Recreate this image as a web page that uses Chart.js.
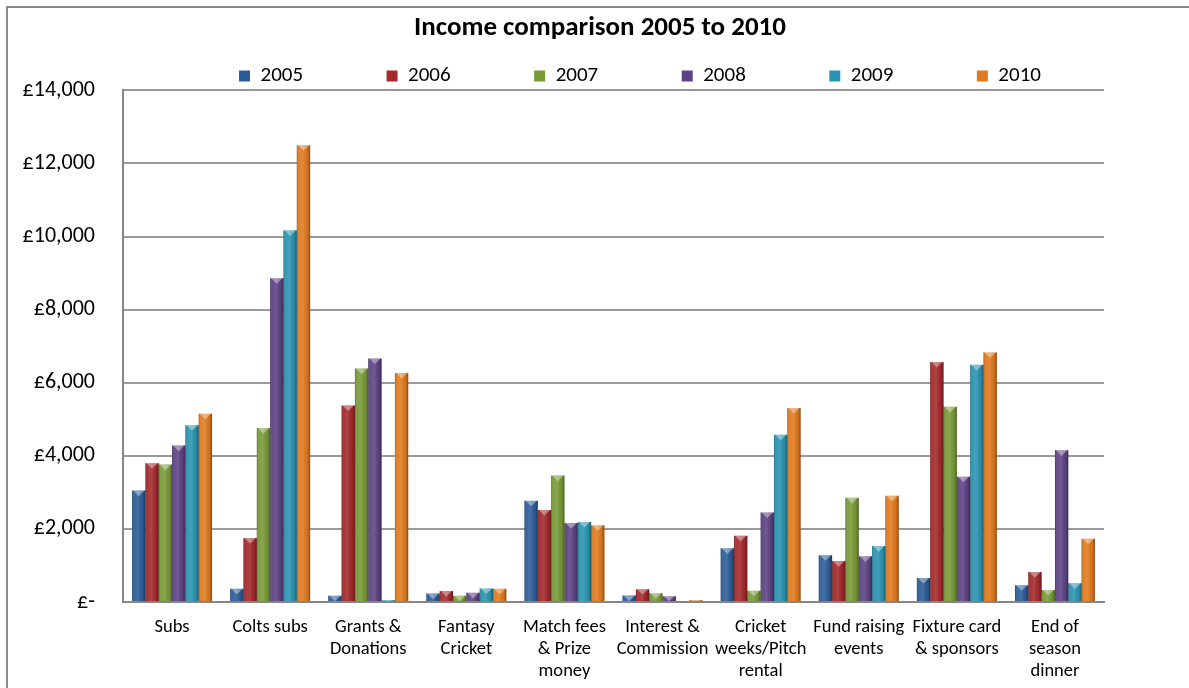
<!DOCTYPE html>
<html>
<head>
<meta charset="utf-8">
<title>Income comparison 2005 to 2010</title>
<script src="https://cdn.jsdelivr.net/npm/chart.js@4.4.1/dist/chart.umd.min.js"></script>
<style>
    body { margin: 0; background: #fff; }
    #wrap { width: 1189px; height: 688px; }
</style>
</head>
<body>
<div id="wrap"><canvas id="incomeChart" width="1189" height="688"></canvas></div>
<script>
// categories (x axis, one entry per line of the label)
const categories = [
    ['Subs'], ['Colts subs'], ['Grants &', 'Donations'], ['Fantasy', 'Cricket'],
    ['Match fees', '& Prize', 'money'], ['Interest &', 'Commission'],
    ['Cricket', 'weeks/Pitch', 'rental'], ['Fund raising', 'events'],
    ['Fixture card', '& sponsors'], ['End of', 'season', 'dinner']
];

const years = ['2005', '2006', '2007', '2008', '2009', '2010'];

// income per category (GBP)
const inc2005 = [3050, 360, 170, 230, 2770, 180, 1470, 1280, 660, 460];
const inc2006 = [3800, 1750, 5380, 300, 2520, 350, 1810, 1120, 6570, 820];
const inc2007 = [3760, 4760, 6390, 170, 3460, 240, 310, 2850, 5340, 330];
const inc2008 = [4280, 8860, 6660, 250, 2160, 160, 2450, 1250, 3430, 4150];
const inc2009 = [4840, 10170, 50, 370, 2190, 20, 4580, 1530, 6490, 510];
const inc2010 = [5150, 12500, 6270, 360, 2100, 50, 5310, 2910, 6830, 1730];

const yTicks = [0, 2000, 4000, 6000, 8000, 10000, 12000, 14000];
const yTickLabels = ['£-', '£2,000', '£4,000', '£6,000', '£8,000', '£10,000', '£12,000', '£14,000'];

const colours = ['#2c5c97', '#a3292b', '#789a37', '#5d4384', '#2a93b0', '#e0791d'];
const series = [inc2005, inc2006, inc2007, inc2008, inc2009, inc2010];

Chart.defaults.font.family = 'Carlito, Calibri, Lato, sans-serif';
Chart.defaults.color = '#000';

// frame around the whole chart
const chartFrame = {
    id: 'chartFrame',
    beforeDraw(chart) {
        const ctx = chart.ctx;
        ctx.save();
        ctx.strokeStyle = '#8a8a8a';
        ctx.lineWidth = 2;
        ctx.strokeRect(7, 7, 1300, 800);
        ctx.restore();
    }
};

// bevel look on every bar: side shading + light triangle on top
const bevel = {
    id: 'bevel',
    afterDatasetsDraw(chart) {
        const ctx = chart.ctx;
        ctx.save();
        chart.data.datasets.forEach((ds, i) => {
            chart.getDatasetMeta(i).data.forEach(bar => {
                const w = bar.width;
                const left = bar.x - w / 2;
                const right = bar.x + w / 2;
                const top = Math.min(bar.y, bar.base);
                const h = Math.abs(bar.base - bar.y);
                if (h < 0.5) return;
                const g = ctx.createLinearGradient(left, 0, right, 0);
                g.addColorStop(0, 'rgba(0,0,0,0.28)');
                g.addColorStop(0.15, 'rgba(255,255,255,0.06)');
                g.addColorStop(0.45, 'rgba(255,255,255,0.12)');
                g.addColorStop(0.8, 'rgba(0,0,0,0.06)');
                g.addColorStop(1, 'rgba(0,0,0,0.38)');
                ctx.fillStyle = g;
                ctx.fillRect(left, top, w, h);
                const th = Math.min(w * 0.42, h);
                ctx.beginPath();
                ctx.moveTo(left + 1, top);
                ctx.lineTo(right - 1, top);
                ctx.lineTo(bar.x, top + th);
                ctx.closePath();
                ctx.fillStyle = 'rgba(255,255,255,0.38)';
                ctx.fill();
            });
        });
        ctx.restore();
    }
};

// the legend starts further right than library centring puts it
const legendOffset = {
    id: 'legendOffset',
    afterLayout(chart) {
        const lg = chart.legend;
        const w = lg.width;
        lg.left = 229;
        lg.right = 229 + w;
    }
};

const GAP = '\u2003\u2003\u2003\u2002';

const ctx = document.getElementById('incomeChart').getContext('2d');
const incomeChart = new Chart(ctx, {
    type: 'bar',
    data: {
        labels: categories,
        datasets: years.map((y, i) => ({
            label: y,
            data: series[i],
            backgroundColor: colours[i],
            borderWidth: 0,
            categoryPercentage: 0.815,
            barPercentage: 1
        }))
    },
    options: {
        responsive: false,
        animation: false,
        layout: { padding: { left: 0, right: 85, top: 0, bottom: 0 } },
        plugins: {
            title: {
                display: true,
                text: 'Income comparison 2005 to 2010\u2003',
                fullSize: false,
                font: { size: 27, weight: 'bold' },
                padding: { top: 12, bottom: 11 }
            },
            legend: {
                position: 'top',
                align: 'start',
                maxHeight: 35,
                labels: {
                    boxWidth: 11,
                    boxHeight: 11,
                    padding: 10,
                    font: { size: 21 },
                    generateLabels: chart => Chart.defaults.plugins.legend.labels.generateLabels(chart)
                        .map((item, i, all) => {
                            if (i < all.length - 1) item.text += GAP;
                            return item;
                        })
                }
            },
            tooltip: { enabled: false }
        },
        scales: {
            x: {
                grid: { display: false, drawTicks: false },
                border: { display: true, color: '#868686', width: 2 },
                ticks: {
                    font: { size: 18.5, lineHeight: 1.17 },
                    padding: 15,
                    maxRotation: 0,
                    autoSkip: false
                },
                afterFit(scale) { scale.height = 86; }
            },
            y: {
                min: 0,
                max: 14000,
                afterBuildTicks(scale) { scale.ticks = yTicks.map(v => ({ value: v })); },
                grid: { color: '#9a9a9a', lineWidth: 2, drawTicks: false },
                border: { display: true, color: '#868686', width: 2 },
                ticks: {
                    font: { size: 22 },
                    padding: 28,
                    callback: (v) => yTickLabels[yTicks.indexOf(v)]
                },
                afterFit(scale) { scale.width = 123; }
            }
        }
    },
    plugins: [chartFrame, bevel, legendOffset]
});
</script>
</body>
</html>
